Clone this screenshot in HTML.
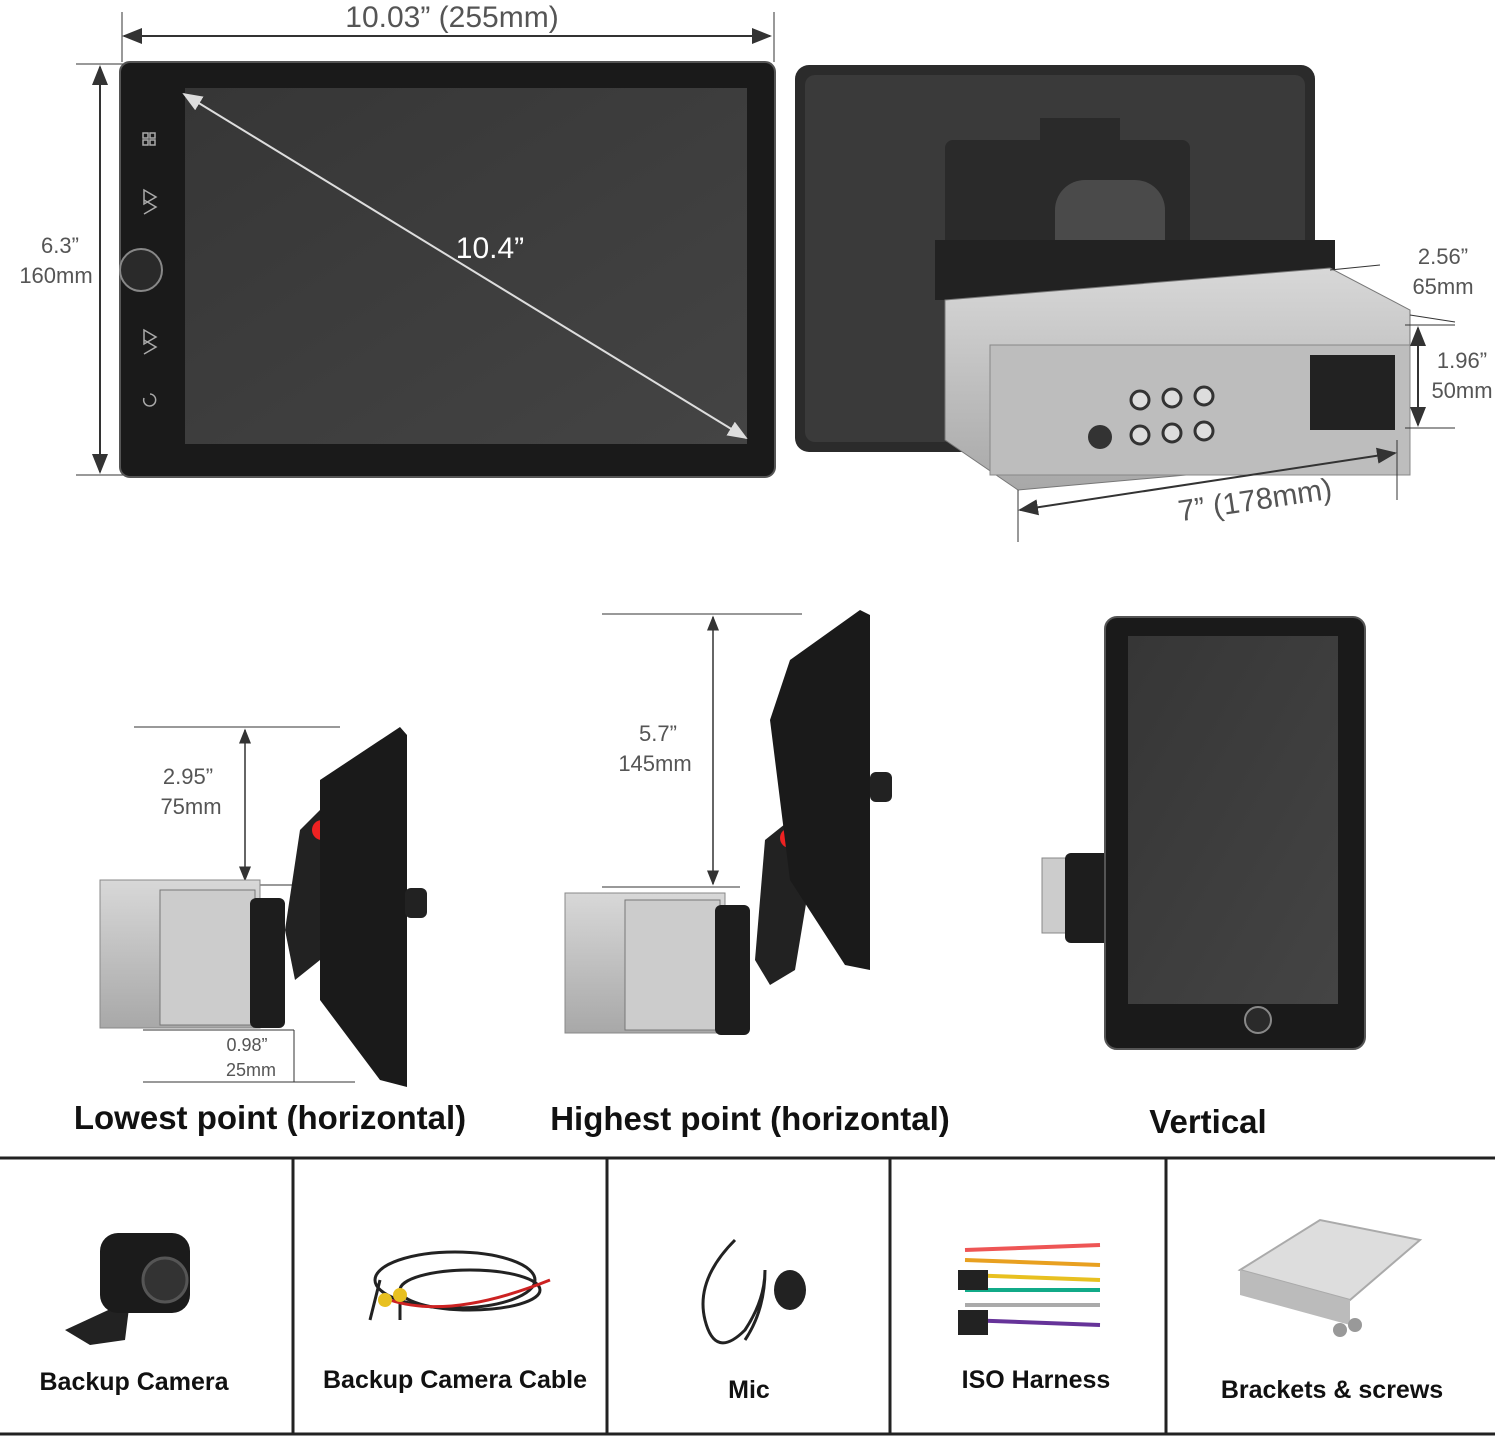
<!DOCTYPE html>
<html><head><meta charset="utf-8"><style>
html,body{margin:0;padding:0;background:#fff;}
svg{display:block}
text{font-family:"Liberation Sans",sans-serif;}
</style></head><body>
<svg width="1500" height="1438" viewBox="0 0 1500 1438" xmlns="http://www.w3.org/2000/svg">
<defs>
<marker id="a" markerWidth="10" markerHeight="10" refX="9" refY="5" orient="auto-start-reverse"><path d="M0,1 L10,5 L0,9 z" fill="#333"/></marker>
<marker id="w" markerWidth="10" markerHeight="10" refX="9" refY="5" orient="auto-start-reverse"><path d="M0,1 L10,5 L0,9 z" fill="#ddd"/></marker>
<linearGradient id="scr" x1="0" y1="0" x2="1" y2="1"><stop offset="0" stop-color="#363636"/><stop offset="1" stop-color="#444"/></linearGradient>
<linearGradient id="met" x1="0" y1="0" x2="0" y2="1"><stop offset="0" stop-color="#d8d8d8"/><stop offset="1" stop-color="#a8a8a8"/></linearGradient>
</defs>

<line x1="122" y1="12" x2="122" y2="62" stroke="#333"/>
<line x1="774" y1="12" x2="774" y2="62" stroke="#333"/>
<line x1="124" y1="36" x2="770" y2="36" stroke="#333" stroke-width="2" marker-start="url(#a)" marker-end="url(#a)"/>
<text x="452" y="27" font-size="30" fill="#555" text-anchor="middle">10.03” (255mm)</text>
<line x1="76" y1="64" x2="124" y2="64" stroke="#333"/>
<line x1="76" y1="475" x2="124" y2="475" stroke="#333"/>
<line x1="100" y1="67" x2="100" y2="472" stroke="#333" stroke-width="2" marker-start="url(#a)" marker-end="url(#a)"/>
<text x="60" y="253" font-size="22" fill="#555" text-anchor="middle">6.3”</text>
<text x="56" y="283" font-size="22" fill="#555" text-anchor="middle">160mm</text>

<rect x="120" y="62" width="655" height="415" rx="10" fill="#1a1a1a" stroke="#555" stroke-width="2"/>
<rect x="185" y="88" width="562" height="356" fill="url(#scr)"/>
<circle cx="141" cy="270" r="21" fill="#2a2a2a" stroke="#888" stroke-width="2"/>
<g fill="none" stroke="#aaa" stroke-width="1.5">
<rect x="143" y="133" width="5" height="5"/><rect x="150" y="133" width="5" height="5"/><rect x="143" y="140" width="5" height="5"/><rect x="150" y="140" width="5" height="5"/>
<path d="M144,190 L156,197 L144,204 z M144,200 L156,207 L144,214"/>
<path d="M144,330 L156,337 L144,344 z M144,340 L156,347 L144,354"/>
<path d="M144,398 a6,6 0 1,0 6,-4"/>
</g>
<line x1="184" y1="94" x2="746" y2="438" stroke="#ddd" stroke-width="2" marker-start="url(#w)" marker-end="url(#w)"/>
<text x="490" y="258" font-size="30" fill="#fff" text-anchor="middle">10.4”</text>

<rect x="795" y="65" width="520" height="387" rx="14" fill="#2b2b2b"/>
<rect x="805" y="75" width="500" height="367" rx="10" fill="#3a3a3a"/>
<rect x="945" y="140" width="245" height="160" rx="8" fill="#2a2a2a"/>
<rect x="1040" y="118" width="80" height="30" fill="#2a2a2a"/>
<rect x="1055" y="180" width="110" height="100" rx="30" fill="#4a4a4a"/>
<rect x="935" y="240" width="400" height="60" fill="#222"/>
<polygon points="945,300 1330,268 1410,310 1410,455 1018,490 945,440" fill="url(#met)" stroke="#777"/>
<rect x="990" y="345" width="420" height="130" fill="#bdbdbd" stroke="#888"/>
<rect x="1310" y="355" width="85" height="75" fill="#222"/>
<g fill="#ddd" stroke="#333" stroke-width="3">
<circle cx="1140" cy="400" r="9"/><circle cx="1172" cy="398" r="9"/><circle cx="1204" cy="396" r="9"/>
<circle cx="1140" cy="435" r="9"/><circle cx="1172" cy="433" r="9"/><circle cx="1204" cy="431" r="9"/>
</g>
<circle cx="1100" cy="437" r="12" fill="#333"/>
<line x1="1330" y1="270" x2="1380" y2="265" stroke="#333"/>
<line x1="1410" y1="315" x2="1455" y2="322" stroke="#333"/>
<text x="1443" y="264" font-size="22" fill="#555" text-anchor="middle">2.56”</text>
<text x="1443" y="294" font-size="22" fill="#555" text-anchor="middle">65mm</text>
<line x1="1405" y1="325" x2="1455" y2="325" stroke="#333"/>
<line x1="1405" y1="428" x2="1455" y2="428" stroke="#333"/>
<line x1="1418" y1="328" x2="1418" y2="425" stroke="#333" stroke-width="2" marker-start="url(#a)" marker-end="url(#a)"/>
<text x="1462" y="368" font-size="22" fill="#555" text-anchor="middle">1.96”</text>
<text x="1462" y="398" font-size="22" fill="#555" text-anchor="middle">50mm</text>
<line x1="1018" y1="490" x2="1018" y2="542" stroke="#333"/>
<line x1="1397" y1="440" x2="1397" y2="500" stroke="#333"/>
<line x1="1020" y1="510" x2="1395" y2="453" stroke="#333" stroke-width="2" marker-start="url(#a)" marker-end="url(#a)"/>
<text x="1255" y="510" font-size="30" fill="#555" text-anchor="middle" transform="rotate(-8.5 1255 500)">7” (178mm)</text>

<line x1="134" y1="727" x2="340" y2="727" stroke="#333"/>
<line x1="134" y1="885" x2="300" y2="885" stroke="#333"/>
<line x1="245" y1="730" x2="245" y2="880" stroke="#333" stroke-width="1.5" marker-start="url(#a)" marker-end="url(#a)"/>
<text x="188" y="784" font-size="22" fill="#555" text-anchor="middle">2.95”</text>
<text x="191" y="814" font-size="22" fill="#555" text-anchor="middle">75mm</text>
<rect x="100" y="880" width="160" height="148" fill="url(#met)" stroke="#888"/>
<rect x="160" y="890" width="95" height="135" fill="#ccc" stroke="#777"/>
<rect x="250" y="898" width="35" height="130" rx="6" fill="#1d1d1d"/>
<path d="M285,930 L300,830 L320,810 L340,880 L320,960 L295,980 z" fill="#222"/>
<circle cx="322" cy="830" r="10" fill="#e22"/>
<polygon points="320,780 400,727 407,735 407,1087 380,1080 320,1000" fill="#1a1a1a"/>
<rect x="405" y="888" width="22" height="30" rx="6" fill="#222"/>
<line x1="143" y1="1030" x2="294" y2="1030" stroke="#333"/>
<line x1="143" y1="1082" x2="355" y2="1082" stroke="#333"/>
<line x1="294" y1="1030" x2="294" y2="1082" stroke="#333"/>
<text x="247" y="1051" font-size="18" fill="#555" text-anchor="middle">0.98”</text>
<text x="251" y="1076" font-size="18" fill="#555" text-anchor="middle">25mm</text>

<line x1="602" y1="614" x2="802" y2="614" stroke="#333"/>
<line x1="602" y1="887" x2="740" y2="887" stroke="#333"/>
<line x1="713" y1="617" x2="713" y2="884" stroke="#333" stroke-width="1.5" marker-start="url(#a)" marker-end="url(#a)"/>
<text x="658" y="741" font-size="22" fill="#555" text-anchor="middle">5.7”</text>
<text x="655" y="771" font-size="22" fill="#555" text-anchor="middle">145mm</text>
<rect x="565" y="893" width="160" height="140" fill="url(#met)" stroke="#888"/>
<rect x="625" y="900" width="95" height="130" fill="#ccc" stroke="#777"/>
<rect x="715" y="905" width="35" height="130" rx="6" fill="#1d1d1d"/>
<path d="M755,960 L765,840 L790,820 L810,880 L795,970 L770,985 z" fill="#222"/>
<circle cx="790" cy="838" r="10" fill="#e22"/>
<polygon points="770,720 790,660 860,610 870,615 870,970 845,965 790,880" fill="#1a1a1a"/>
<rect x="870" y="772" width="22" height="30" rx="6" fill="#222"/>

<rect x="1042" y="858" width="30" height="75" fill="#ccc" stroke="#888"/>
<rect x="1065" y="853" width="55" height="90" rx="6" fill="#1d1d1d"/>
<rect x="1105" y="617" width="260" height="432" rx="12" fill="#1a1a1a" stroke="#555" stroke-width="2"/>
<rect x="1128" y="636" width="210" height="368" fill="url(#scr)"/>
<circle cx="1258" cy="1020" r="13" fill="#2a2a2a" stroke="#888" stroke-width="2"/>

<text x="270" y="1129" font-size="33" font-weight="bold" fill="#111" text-anchor="middle">Lowest point (horizontal)</text>
<text x="750" y="1130" font-size="33" font-weight="bold" fill="#111" text-anchor="middle">Highest point (horizontal)</text>
<text x="1208" y="1133" font-size="33" font-weight="bold" fill="#111" text-anchor="middle">Vertical</text>

<line x1="0" y1="1158" x2="1495" y2="1158" stroke="#222" stroke-width="3"/>
<line x1="0" y1="1434" x2="1495" y2="1434" stroke="#222" stroke-width="3"/>
<g stroke="#222" stroke-width="3">
<line x1="293" y1="1158" x2="293" y2="1434"/><line x1="607" y1="1158" x2="607" y2="1434"/>
<line x1="890" y1="1158" x2="890" y2="1434"/><line x1="1166" y1="1158" x2="1166" y2="1434"/>
</g>
<path d="M65,1330 L130,1300 L125,1340 L90,1345 z" fill="#222"/>
<rect x="100" y="1233" width="90" height="80" rx="18" fill="#1b1b1b"/>
<circle cx="165" cy="1280" r="22" fill="#333" stroke="#555" stroke-width="3"/>
<g fill="none" stroke="#222" stroke-width="3">
<ellipse cx="455" cy="1280" rx="80" ry="28"/><ellipse cx="470" cy="1290" rx="70" ry="20"/>
<path d="M380,1280 L370,1320 M400,1290 L400,1320"/>
</g>
<path d="M390,1300 q60,20 160,-20" stroke="#c22" stroke-width="3" fill="none"/>
<circle cx="385" cy="1300" r="7" fill="#e8c020"/><circle cx="400" cy="1295" r="7" fill="#e8c020"/>
<g fill="none" stroke="#222" stroke-width="3">
<path d="M735,1240 q-40,40 -30,80 q10,40 40,10 q20,-30 20,-60 M765,1270 q0,40 -20,70"/>
</g>
<ellipse cx="790" cy="1290" rx="16" ry="20" fill="#222"/>
<g stroke-width="4">
<line x1="965" y1="1250" x2="1100" y2="1245" stroke="#e55"/><line x1="965" y1="1260" x2="1100" y2="1265" stroke="#e8a020"/>
<line x1="965" y1="1275" x2="1100" y2="1280" stroke="#e8c020"/><line x1="965" y1="1290" x2="1100" y2="1290" stroke="#1a8"/>
<line x1="965" y1="1305" x2="1100" y2="1305" stroke="#aaa"/><line x1="965" y1="1320" x2="1100" y2="1325" stroke="#639"/>
</g>
<rect x="958" y="1270" width="30" height="20" fill="#222"/><rect x="958" y="1310" width="30" height="25" fill="#222"/>
<polygon points="1240,1270 1320,1220 1420,1240 1350,1300" fill="#ddd" stroke="#aaa" stroke-width="2"/>
<polygon points="1240,1270 1350,1300 1350,1325 1240,1295" fill="#bbb"/>
<circle cx="1340" cy="1330" r="7" fill="#999"/><circle cx="1355" cy="1325" r="7" fill="#999"/>

<g font-size="25" font-weight="bold" fill="#111" text-anchor="middle">
<text x="134" y="1390">Backup Camera</text>
<text x="455" y="1388">Backup Camera Cable</text>
<text x="749" y="1398">Mic</text>
<text x="1036" y="1388">ISO Harness</text>
<text x="1332" y="1398">Brackets &amp; screws</text>
</g>
</svg>
</body></html>
